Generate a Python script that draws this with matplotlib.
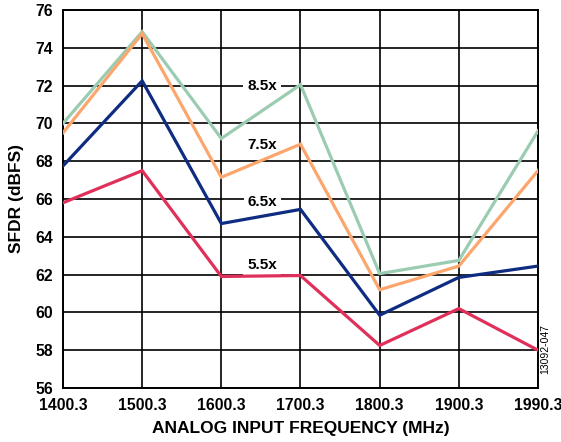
import matplotlib
matplotlib.use("Agg")
import matplotlib.pyplot as plt

plt.rcParams["font.family"] = ["Liberation Sans", "DejaVu Sans"]

freqs = ["1400.3", "1500.3", "1600.3", "1700.3", "1800.3", "1900.3", "1990.3"]
sfdr_85x = [70.0, 74.85, 69.2, 72.05, 62.05, 62.75, 69.6]
sfdr_75x = [69.5, 74.75, 67.15, 68.9, 61.2, 62.45, 67.5]
sfdr_65x = [67.75, 72.25, 64.7, 65.45, 59.85, 61.85, 62.45]
sfdr_55x = [65.8, 67.5, 61.9, 61.95, 58.25, 60.2, 58.0]

series = [
    ("8.5x", sfdr_85x, "#9bccb1", 72.0),
    ("7.5x", sfdr_75x, "#fca66e", 68.85),
    ("6.5x", sfdr_65x, "#0e2d82", 65.85),
    ("5.5x", sfdr_55x, "#e0305a", 62.5),
]

fig = plt.figure(figsize=(5.61, 4.42), dpi=100)
ax = fig.add_axes([0.1123, 0.1222, 0.8467, 0.8552])

x = list(range(len(freqs)))
for name, vals, color, label_y in series:
    ax.plot(x, vals, color=color, linewidth=2.3, solid_joinstyle="miter", zorder=3)
    # white box only hides the grid, lines are drawn on top
    ax.text(2.52, label_y, name, fontsize=11, fontweight="bold", ha="center",
            va="center", zorder=2,
            bbox=dict(facecolor="white", edgecolor="none", pad=3))

ax.set_xlim(0, len(freqs) - 1)
ax.set_ylim(56, 76)
ax.set_xticks(x)
ax.set_xticklabels(freqs)
ax.set_yticks(range(56, 77, 2))
ax.grid(True, color="black", linewidth=1.2, zorder=1)
ax.set_axisbelow(True)
for s in ax.spines.values():
    s.set_linewidth(1.4)
ax.tick_params(length=0, pad=7, labelsize=11.3)
for lab in ax.get_xticklabels() + ax.get_yticklabels():
    lab.set_fontweight("bold")

ax.set_xlabel("ANALOG INPUT FREQUENCY (MHz)", fontsize=12.5, fontweight="bold", labelpad=6)
ax.set_ylabel("SFDR (dBFS)", fontsize=12.5, fontweight="bold", labelpad=8)

fig.text(0.972, 0.21, "13092-047", rotation=90, fontsize=7.5, ha="center", va="center")

fig.savefig("out.png", dpi=100)
